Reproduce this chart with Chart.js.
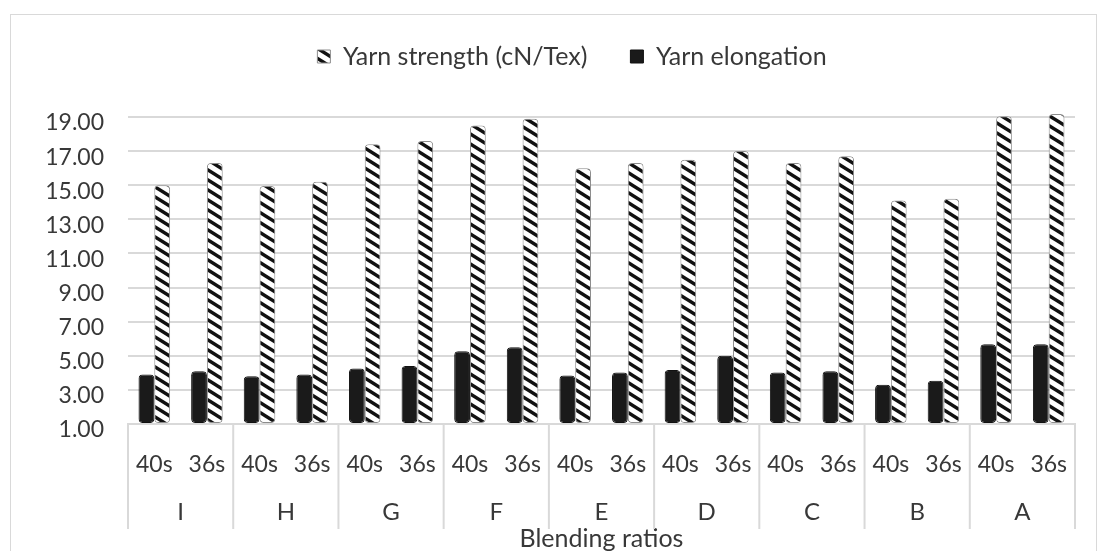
<!DOCTYPE html>
<html>
<head>
<meta charset="utf-8">
<script src="https://cdn.jsdelivr.net/npm/chart.js@4.4.1/dist/chart.umd.min.js"></script>
<style>
  html, body { margin: 0; padding: 0; background: #fff; }
  #wrap { position: relative; width: 1105px; height: 551px; overflow: hidden; }
  #frame { position: absolute; left: 10px; top: 14px; width: 1085px; height: 600px; border: 1px solid #d9d9d9; }
  canvas { position: absolute; left: 0; top: 0; }
</style>
</head>
<body>
<div id="wrap">
  <div id="frame"></div>
  <canvas id="chart" width="1140" height="551"></canvas>
</div>
<script>
// blending ratio groups, two yarn counts in each
const groups = ['I', 'H', 'G', 'F', 'E', 'D', 'C', 'B', 'A'];
const counts = ['40s', '36s'];
const labels = groups.flatMap(() => counts);

const strength = [15.0, 16.3, 14.95, 15.2, 17.4, 17.6, 18.5, 18.9, 16.0, 16.3, 16.5, 17.0, 16.3, 16.7, 14.1, 14.2, 19.05, 19.17];
const elongation = [3.9, 4.1, 3.8, 3.9, 4.25, 4.4, 5.26, 5.5, 3.84, 4.02, 4.17, 5.0, 4.02, 4.1, 3.3, 3.54, 5.67, 5.67];

const yMin = 1;
const yMax = 19;
const yStep = 2;

const FONT = 'Lato';
const TEXT = '#383838';

// diagonal stripes for the strength bars
function makeHatch() {
  const c = document.createElement('canvas');
  c.width = 16;
  c.height = 10;
  const g = c.getContext('2d');
  g.fillStyle = '#fff';
  g.fillRect(0, 0, 16, 10);
  g.strokeStyle = '#111';
  g.lineWidth = 3.5;
  for (const dy of [-10, 0, 10]) {
    g.beginPath();
    g.moveTo(-2, dy - 1.25);
    g.lineTo(18, dy + 11.25);
    g.stroke();
  }
  return g.createPattern(c, 'repeat');
}

// vertical lines between the blending ratio groups
const groupSeparators = {
  id: 'groupSeparators',
  afterDraw(chart) {
    const x2 = chart.scales.x2;
    const ctx = chart.ctx;
    const w = x2.getPixelForValue(1) - x2.getPixelForValue(0);
    const start = x2.getPixelForValue(0) - w / 2;
    ctx.save();
    ctx.strokeStyle = '#d9d9d9';
    ctx.lineWidth = 2;
    for (let i = 0; i <= groups.length; i++) {
      const px = start + i * w;
      ctx.beginPath();
      ctx.moveTo(px, chart.chartArea.bottom);
      ctx.lineTo(px, x2.bottom + 3);
      ctx.stroke();
    }
    ctx.restore();
  }
};

// more room under the legend so the plot starts lower
const legendGap = {
  id: 'legendGap',
  beforeInit(chart) {
    const fit = chart.legend.fit;
    chart.legend.fit = function () {
      fit.bind(chart.legend)();
      this.height += 38;
    };
  }
};

const ctx = document.getElementById('chart').getContext('2d');
new Chart(ctx, {
  type: 'bar',
  data: {
    labels: labels,
    datasets: [
      {
        label: 'Yarn elongation',
        data: elongation,
        backgroundColor: '#1a1a1a',
        borderColor: '#111',
        borderWidth: 1,
        borderRadius: 4,
        borderSkipped: false,
        base: yMin,
        clip: false,
      },
      {
        label: 'Yarn strength (cN/Tex)',
        data: strength,
        backgroundColor: makeHatch(),
        borderColor: '#8c8c8c',
        borderWidth: 1,
        borderRadius: 4,
        borderSkipped: false,
        base: yMin,
        clip: false,
      },
    ],
  },
  options: {
    responsive: false,
    animation: false,
    layout: { padding: { left: 10, right: 6, top: 1, bottom: 0 } },
    categoryPercentage: 0.6,
    barPercentage: 1,
    plugins: {
      legend: {
        position: 'top',
        reverse: true,
        labels: {
          boxWidth: 13,
          boxHeight: 13,
          padding: 43,
          color: TEXT,
          font: { family: FONT, size: 25 },
        },
      },
      title: {
        display: true,
        position: 'bottom',
        fullSize: false,
        text: 'Blending ratios',
        color: TEXT,
        font: { family: FONT, size: 25, weight: 'normal', lineHeight: 1 },
        padding: 0,
      },
      tooltip: { enabled: false },
    },
    scales: {
      y: {
        min: yMin,
        max: yMax,
        border: { display: false },
        grid: { color: '#d9d9d9', lineWidth: 2, drawTicks: false },
        ticks: {
          stepSize: yStep,
          padding: 24,
          labelOffset: 6,
          color: TEXT,
          font: { family: FONT, size: 23 },
          callback: v => v.toFixed(2),
        },
        afterFit: scale => { scale.width = 118; },
      },
      // empty axis on the right that only reserves space
      yRight: {
        position: 'right',
        min: yMin,
        max: yMax,
        grid: { display: false },
        border: { display: false },
        ticks: { display: false },
        afterFit: scale => { scale.width = 59; },
      },
      x: {
        position: 'bottom',
        offset: true,
        grid: { display: false, drawTicks: false },
        border: { display: true, color: '#d9d9d9', width: 2 },
        ticks: {
          padding: 27,
          maxRotation: 0,
          autoSkip: false,
          color: TEXT,
          font: { family: FONT, size: 23 },
        },
        afterFit: scale => { scale.height = 66; },
      },
      x2: {
        type: 'category',
        position: 'bottom',
        labels: groups,
        offset: true,
        grid: { display: false, drawTicks: false },
        border: { display: false },
        ticks: {
          padding: 8,
          maxRotation: 0,
          autoSkip: false,
          color: TEXT,
          font: { family: FONT, size: 24 },
        },
        afterFit: scale => { scale.height = 36; },
      },
    },
  },
  plugins: [groupSeparators, legendGap],
});
</script>
</body>
</html>
